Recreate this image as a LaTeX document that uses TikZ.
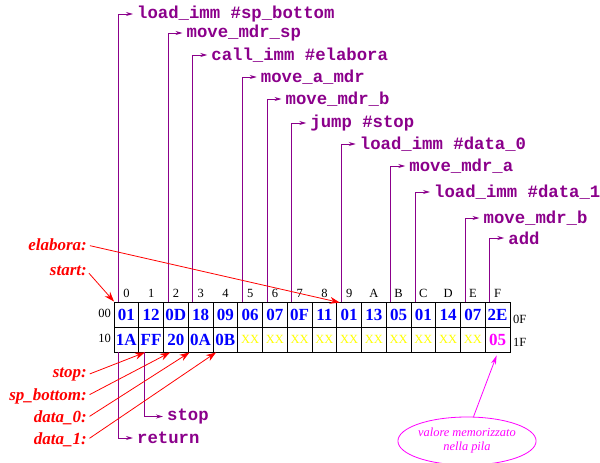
\documentclass[tikz,border=0pt]{standalone}
\usepackage{fontspec}
\setmainfont{Liberation Serif}
\setmonofont{Liberation Mono}
\usetikzlibrary{arrows.meta,shapes.geometric}
\definecolor{instrcol}{RGB}{139,0,139}
\definecolor{labred}{RGB}{255,0,0}
\definecolor{codeblue}{RGB}{0,0,255}
\definecolor{freeyel}{RGB}{255,255,0}
\definecolor{stackmag}{RGB}{255,0,255}
\begin{document}
\begin{tikzpicture}[x=1pt,y=-1pt,
  cell/.style={draw=black,line width=0.9pt,minimum width=24.75pt,minimum height=25pt,inner sep=0pt,anchor=center},
  code/.style={cell,text=codeblue,font=\fontsize{17}{17}\selectfont\bfseries},
  free/.style={cell,text=freeyel,font=\fontsize{12.5}{12.5}\selectfont},
  stackv/.style={cell,text=stackmag,font=\fontsize{17}{17}\selectfont\bfseries},
  ins/.style={text=instrcol,font=\fontsize{17.3}{17.3}\selectfont\ttfamily\bfseries,anchor=west,inner sep=0pt},
  insline/.style={draw=instrcol,line width=0.9pt,-{Stealth[length=7pt,width=4pt]},shorten >=4pt},
  lab/.style={text=labred,font=\fontsize{17}{17}\selectfont\bfseries\itshape,anchor=east,inner sep=0pt},
  labline/.style={draw=labred,line width=0.8pt,-{Stealth[length=10pt,width=7pt]},shorten <=3pt},
  small/.style={font=\fontsize{12.5}{12.5}\selectfont,inner sep=0pt},
  note/.style={ellipse,draw=stackmag,line width=0.8pt,text=stackmag,minimum width=130pt,minimum height=48pt,inner sep=0pt,align=center,font=\fontsize{12.4}{14}\selectfont\itshape},
  noteline/.style={draw=stackmag,line width=0.8pt,-{Stealth[length=9pt,width=5pt]}}
]
\useasboundingbox (0,0) rectangle (600,463);

% memory cells
\foreach \v [count=\i from 0] in {01,12,0D,18,09,06,07,0F,11,01,13,05,01,14,07,2E}
  \node[code] (c0-\i) at ({126.375+24.75*\i},314.5) {\v};
\foreach \v [count=\i from 0] in {1A,FF,20,0A,0B}
  \node[code] (c1-\i) at ({126.375+24.75*\i},339.5) {\v};
\foreach \i in {5,...,14}
  \node[free] (c1-\i) at ({126.375+24.75*\i},339.5) {XX};
\node[stackv] (c1-15) at ({126.375+24.75*15},339.5) {05};

% column labels
\foreach \h [count=\i from 0] in {0,1,2,3,4,5,6,7,8,9,A,B,C,D,E,F}
  \node[small] (col\i) at ({126.375+24.75*\i},293) {\h};
\node[small,anchor=east] (r00) at (111,313.5) {00};
\node[small,anchor=east] (r10) at (111,338) {10};
\node[small,anchor=west] (r0F) at (513,319) {0F};
\node[small,anchor=west] (r1F) at (513,342) {1F};

% instructions
\foreach \c/\y/\t in {0/14/{load\_imm \#sp\_bottom},2/33/{move\_mdr\_sp},3/55/{call\_imm \#elabora},5/77/{move\_a\_mdr},6/99/{move\_mdr\_b},7/123/{jump \#stop},9/144/{load\_imm \#data\_0},11/166/{move\_mdr\_a},12/192/{load\_imm \#data\_1},14/218/{move\_mdr\_b},15/238/{add}}{
  \node[ins] (i\c) at ({114+24.75*\c+4.5+18.5},\y) {\t};
  \draw[insline] ([xshift=-7.875pt]c0-\c.north) |- (i\c.west);
}

% return targets
\node[ins] (iret) at (137,438) {return};
\node[ins] (istop) at (167,416.5) {stop};
\draw[insline] ([xshift=-7.875pt]c1-0.south) |- (iret.west);
\draw[insline] ([xshift=6.5pt]c1-1.south west) |- (istop.west);

% labels
\node[lab] (lelab) at (87,245) {elabora:};
\node[lab] (lstart) at (87,271) {start:};
\node[lab] (lstop) at (87,375) {stop:};
\node[lab] (lsp) at (87,396) {sp\_bottom:};
\node[lab] (ld0) at (87,418) {data\_0:};
\node[lab] (ld1) at (87,440) {data\_1:};
\draw[labline] (lelab.east) -- ([xshift=3.5pt,yshift=-1pt]c0-9.north west);
\draw[labline] (lstart.east) -- ([xshift=0.5pt]c0-0.north west);
\draw[labline] (lstop.east) -- ([xshift=6.5pt]c1-1.south west);
\draw[labline] (lsp.east) -- ([xshift=7pt]c1-2.south west);
\draw[labline] (ld0.east) -- ([xshift=1.75pt]c1-3.south west);
\draw[labline] (ld1.east) -- ([xshift=3.5pt]c1-4.south west);

% stack note
\node[note] (pila) at (467,441) {valore memorizzato\\nella pila};
\draw[noteline] (pila.75) -- ([xshift=-1pt,yshift=-3pt]c1-15.south);
\end{tikzpicture}
\end{document}
